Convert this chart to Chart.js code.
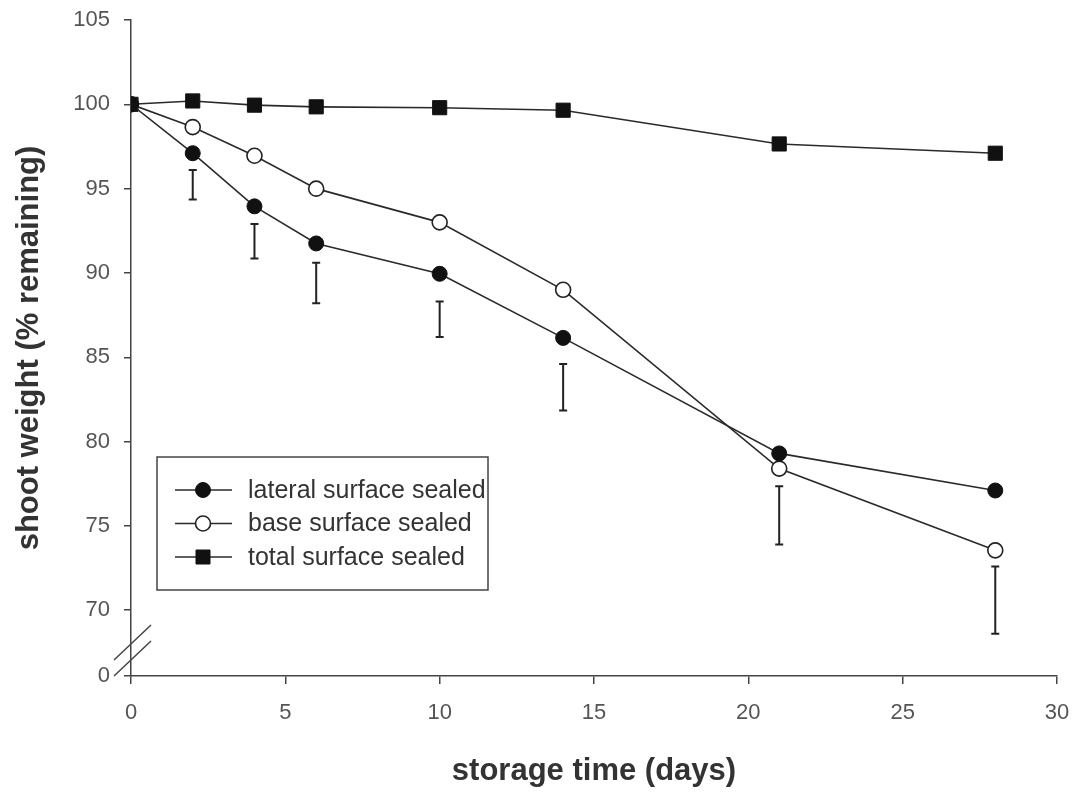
<!DOCTYPE html>
<html>
<head>
<meta charset="utf-8">
<script src="https://cdn.jsdelivr.net/npm/chart.js@4.4.0/dist/chart.umd.min.js"></script>
<style>
  html, body { margin: 0; padding: 0; background: #fff; }
</style>
</head>
<body>
<canvas id="lineChart" width="1077" height="792"></canvas>
<script>
const ctx = document.getElementById('lineChart').getContext('2d');

// storage days and % weight remaining
const days = [0, 2, 4, 6, 10, 14, 21, 28]
const lateral = [100, 97.1, 93.95, 91.75, 89.95, 86.15, 79.3, 77.1]
const base = [100, 98.65, 96.95, 95.0, 93.0, 89.0, 78.4, 73.55]
const total = [100, 100.2, 99.95, 99.85, 99.8, 99.65, 97.65, 97.1]

// the little I-bars under the curves
const errDays = [2, 4, 6, 10, 14, 21, 28]
const errTop = [96.1, 92.9, 90.6, 88.3, 84.6, 77.35, 72.6]
const errBottom = [94.35, 90.85, 88.2, 86.2, 81.85, 73.9, 68.6]

const xTicks = [0, 5, 10, 15, 20, 25, 30]
const yBreak = 66.1   // where the axis shows "0"
const yTicks = [yBreak, 70, 75, 80, 85, 90, 95, 100, 105]
const yTickLabels = ['0', '70', '75', '80', '85', '90', '95', '100', '105']

const seriesNames = ['lateral surface sealed', 'base surface sealed', 'total surface sealed']

const FONT = "'Liberation Sans', Arial, sans-serif"
const ink = '#2a2a2a'

const toPoints = (vals) => days.map((d, i) => ({ x: d, y: vals[i] }))

const data = {
    datasets: [{
        label: seriesNames[0],
        data: toPoints(lateral),
        borderColor: ink,
        borderWidth: 1.6,
        pointStyle: 'circle',
        pointRadius: 7.5,
        pointBackgroundColor: '#111',
        pointBorderColor: '#111',
        pointBorderWidth: 1,
        tension: 0,
    }, {
        label: seriesNames[1],
        data: toPoints(base),
        borderColor: ink,
        borderWidth: 1.6,
        pointStyle: 'circle',
        pointRadius: 7.5,
        pointBackgroundColor: '#fff',
        pointBorderColor: '#222',
        pointBorderWidth: 1.6,
        tension: 0,
    }, {
        label: seriesNames[2],
        data: toPoints(total),
        borderColor: ink,
        borderWidth: 1.6,
        pointStyle: 'rect',
        pointRadius: 10,
        pointBackgroundColor: '#111',
        pointBorderColor: '#111',
        pointBorderWidth: 1,
        tension: 0,
    }],
}

// error bars + axis break + legend box + axis titles
const extras = {
    id: 'extras',
    afterDatasetsDraw(chart) {
        const c = chart.ctx
        const xs = chart.scales.x, ys = chart.scales.y
        c.save()
        c.strokeStyle = '#222'
        c.lineWidth = 2
        errDays.forEach((d, i) => {
            const x = xs.getPixelForValue(d)
            const t = ys.getPixelForValue(errTop[i])
            const b = ys.getPixelForValue(errBottom[i])
            c.beginPath()
            c.moveTo(x, t); c.lineTo(x, b)
            c.moveTo(x - 4, t); c.lineTo(x + 4, t)
            c.moveTo(x - 4, b); c.lineTo(x + 4, b)
            c.stroke()
        })
        c.restore()
    },
    afterDraw(chart) {
        const c = chart.ctx
        const area = chart.chartArea
        const ys = chart.scales.y
        const x0 = area.left
        const y0 = ys.getPixelForValue(yBreak)

        // break marks
        c.save()
        c.strokeStyle = '#444'
        c.lineWidth = 1.5
        c.beginPath()
        c.moveTo(x0 - 17, y0); c.lineTo(x0 + 20, y0 - 35)
        c.moveTo(x0 - 17, y0 - 16); c.lineTo(x0 + 20, y0 - 51)
        c.stroke()
        c.restore()

        // legend
        const lx = area.left + 26, ly = 457
        c.save()
        c.fillStyle = '#fff'
        c.fillRect(lx, ly, 331, 133)
        c.strokeStyle = '#444'
        c.lineWidth = 1.5
        c.strokeRect(lx, ly, 331, 133)
        chart.data.datasets.forEach((ds, i) => {
            const ry = ly + 33 + i * 33.5
            c.strokeStyle = ink
            c.lineWidth = 1.6
            c.beginPath()
            c.moveTo(lx + 18, ry); c.lineTo(lx + 75, ry)
            c.stroke()
            const mx = lx + 46
            c.fillStyle = ds.pointBackgroundColor
            c.strokeStyle = ds.pointBorderColor
            c.lineWidth = ds.pointBorderWidth
            c.beginPath()
            if (ds.pointStyle === 'rect') {
                c.rect(mx - 7, ry - 7, 14, 14)
            } else {
                c.arc(mx, ry, 7.5, 0, Math.PI * 2)
            }
            c.fill(); c.stroke()
            c.fillStyle = '#333'
            c.font = '25px ' + FONT
            c.textBaseline = 'middle'
            c.textAlign = 'left'
            c.fillText(ds.label, lx + 91, ry + 1)
        })
        c.restore()

        // axis titles
        c.save()
        c.fillStyle = '#333'
        c.font = 'bold 31px ' + FONT
        c.textAlign = 'center'
        c.textBaseline = 'middle'
        c.fillText('storage time (days)', (area.left + area.right) / 2, 771)
        c.translate(29, (area.top + area.bottom) / 2)
        c.rotate(-Math.PI / 2)
        c.fillText('shoot weight (% remaining)', 0, 0)
        c.restore()
    },
}

const config = {
    type: 'line',
    data: data,
    options: {
        responsive: false,
        animation: false,
        layout: { padding: { top: 20, right: 20, left: 0, bottom: 0 } },
        plugins: {
            legend: { display: false },
            tooltip: { enabled: false },
        },
        scales: {
            x: {
                type: 'linear',
                min: 0,
                max: 30,
                afterBuildTicks: (s) => { s.ticks = xTicks.map(v => ({ value: v })) },
                afterFit: (s) => { s.height = 116; s.paddingRight = 0; s.paddingLeft = 0 },
                grid: { drawOnChartArea: false, drawTicks: true, tickLength: 8, color: '#444', lineWidth: 1.5 },
                border: { display: true, color: '#444', width: 1.5 },
                ticks: { color: '#555', font: { family: FONT, size: 22 }, padding: 16, maxRotation: 0 },
            },
            y: {
                min: yBreak,
                max: 105,
                afterBuildTicks: (s) => { s.ticks = yTicks.map(v => ({ value: v })) },
                afterFit: (s) => { s.width = 131; s.paddingTop = 0; s.paddingBottom = 0 },
                grid: { drawOnChartArea: false, drawTicks: true, tickLength: 7, color: '#444', lineWidth: 1.5 },
                border: { display: true, color: '#444', width: 1.5 },
                ticks: {
                    color: '#555',
                    font: { family: FONT, size: 22 },
                    padding: 14,
                    callback: (v) => yTickLabels[yTicks.indexOf(v)],
                },
            },
        },
    },
    plugins: [extras],
}

const myChart = new Chart(ctx, config)
</script>
</body>
</html>
